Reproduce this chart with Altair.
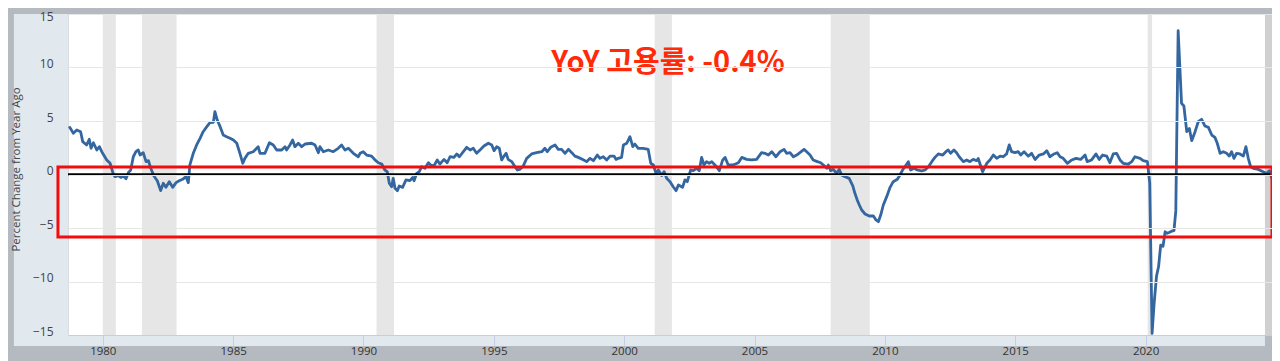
import altair as alt
import pandas as pd

# ---- data (decimal year, percent change from year ago)
years = [
    1978.71, 1978.87, 1979.00, 1979.15, 1979.23, 1979.38, 1979.48, 1979.55, 1979.64, 1979.77,
    1979.87, 1979.96, 1980.15, 1980.28, 1980.40, 1980.47, 1980.59, 1980.69, 1980.79, 1980.89,
    1980.98, 1981.07, 1981.17, 1981.27, 1981.36, 1981.43, 1981.55, 1981.66, 1981.75, 1981.84,
    1981.96, 1982.09, 1982.22, 1982.32, 1982.42, 1982.55, 1982.68, 1982.81, 1982.93, 1983.06,
    1983.19, 1983.28, 1983.34, 1983.47, 1983.60, 1983.73, 1983.85, 1983.99, 1984.11, 1984.24,
    1984.30, 1984.39, 1984.50, 1984.62, 1984.75, 1984.88, 1985.01, 1985.14, 1985.26, 1985.37,
    1985.45, 1985.58, 1985.77, 1985.96, 1986.03, 1986.22, 1986.39, 1986.54, 1986.67, 1986.86,
    1986.99, 1987.05, 1987.18, 1987.28, 1987.37, 1987.50, 1987.63, 1987.76, 1988.01, 1988.14,
    1988.27, 1988.33, 1988.46, 1988.65, 1988.84, 1989.03, 1989.16, 1989.29, 1989.42, 1989.61,
    1989.80, 1989.87, 1989.99, 1990.12, 1990.31, 1990.44, 1990.57, 1990.70, 1990.82, 1990.91,
    1990.99, 1991.08, 1991.14, 1991.21, 1991.30, 1991.37, 1991.50, 1991.63, 1991.78, 1991.89,
    1991.94, 1992.04, 1992.14, 1992.23, 1992.36, 1992.49, 1992.58, 1992.70, 1992.83, 1992.93,
    1993.09, 1993.21, 1993.32, 1993.47, 1993.58, 1993.68, 1993.83, 1993.96, 1994.09, 1994.21,
    1994.34, 1994.47, 1994.62, 1994.79, 1994.92, 1995.01, 1995.11, 1995.21, 1995.30, 1995.39,
    1995.47, 1995.55, 1995.69, 1995.77, 1995.90, 1996.00, 1996.13, 1996.26, 1996.45, 1996.64,
    1996.84, 1996.96, 1997.05, 1997.18, 1997.35, 1997.47, 1997.60, 1997.73, 1997.86, 1997.99,
    1998.11, 1998.24, 1998.41, 1998.56, 1998.69, 1998.82, 1998.97, 1999.07, 1999.20, 1999.33,
    1999.46, 1999.61, 1999.69, 1999.77, 1999.90, 1999.97, 2000.10, 2000.22, 2000.33, 2000.41,
    2000.54, 2000.73, 2000.92, 2001.02, 2001.12, 2001.22, 2001.31, 2001.44, 2001.53, 2001.63,
    2001.76, 2001.88, 2001.99, 2002.08, 2002.24, 2002.33, 2002.42, 2002.55, 2002.65, 2002.78,
    2002.88, 2002.97, 2003.06, 2003.16, 2003.26, 2003.36, 2003.48, 2003.65, 2003.78, 2003.87,
    2003.99, 2004.18, 2004.38, 2004.51, 2004.70, 2004.89, 2005.08, 2005.27, 2005.40, 2005.53,
    2005.66, 2005.82, 2005.98, 2006.13, 2006.23, 2006.36, 2006.49, 2006.62, 2006.74, 2006.90,
    2007.00, 2007.13, 2007.25, 2007.41, 2007.54, 2007.64, 2007.77, 2007.83, 2007.92, 2008.02,
    2008.15, 2008.25, 2008.34, 2008.47, 2008.63, 2008.77, 2008.85, 2008.94, 2009.02, 2009.11,
    2009.24, 2009.40, 2009.56, 2009.66, 2009.75, 2009.84, 2009.94, 2010.07, 2010.20, 2010.32,
    2010.48, 2010.58, 2010.68, 2010.77, 2010.90, 2010.99, 2011.12, 2011.24, 2011.41, 2011.54,
    2011.67, 2011.80, 2011.92, 2012.05, 2012.22, 2012.34, 2012.43, 2012.52, 2012.65, 2012.75,
    2012.85, 2013.01, 2013.14, 2013.26, 2013.39, 2013.52, 2013.58, 2013.75, 2013.91, 2014.03,
    2014.16, 2014.29, 2014.42, 2014.54, 2014.67, 2014.77, 2014.86, 2014.99, 2015.12, 2015.21,
    2015.34, 2015.50, 2015.63, 2015.76, 2015.92, 2016.08, 2016.21, 2016.33, 2016.49, 2016.61,
    2016.72, 2016.84, 2017.00, 2017.17, 2017.33, 2017.51, 2017.68, 2017.76, 2017.93, 2018.10,
    2018.22, 2018.35, 2018.51, 2018.63, 2018.76, 2018.89, 2019.02, 2019.14, 2019.34, 2019.47,
    2019.59, 2019.79, 2019.91, 2020.07, 2020.16, 2020.25, 2020.33, 2020.42, 2020.50, 2020.58,
    2020.67, 2020.75, 2020.83, 2020.92, 2021.00, 2021.09, 2021.16, 2021.25, 2021.38, 2021.47,
    2021.58, 2021.68, 2021.77, 2021.90, 2022.02, 2022.15, 2022.28, 2022.41, 2022.54, 2022.66,
    2022.75, 2022.86, 2022.98, 2023.11, 2023.21, 2023.30, 2023.39, 2023.49, 2023.62, 2023.75,
    2023.85, 2023.94, 2024.03, 2024.13, 2024.32, 2024.51, 2024.65, 2024.75, 2024.84,
]
values = [
    4.50, 3.85, 4.16, 4.00, 3.07, 2.76, 3.29, 2.45, 2.97, 2.29,
    2.60, 2.13, 1.36, 1.05, 0.05, -0.20, -0.10, -0.27, -0.15, -0.39,
    0.17, 0.42, 1.66, 2.13, 2.29, 1.82, 2.04, 1.20, 1.30, 0.58,
    -0.14, -0.58, -1.51, -0.82, -1.20, -0.67, -1.20, -0.76, -0.58, -0.45,
    -0.20, -0.76, 0.89, 1.98, 2.76, 3.38, 4.00, 4.47, 4.84, 4.87,
    5.87, 5.09, 4.47, 3.69, 3.53, 3.38, 3.22, 2.92, 1.98, 1.05,
    1.51, 1.98, 2.13, 2.60, 1.98, 1.98, 2.97, 2.76, 2.29, 2.29,
    2.60, 2.29, 2.76, 3.22, 2.60, 2.92, 2.60, 2.85, 2.92, 2.76,
    2.04, 2.60, 2.13, 2.29, 2.13, 2.45, 2.76, 2.29, 2.45, 1.98,
    1.66, 1.98, 2.13, 1.82, 1.72, 1.36, 1.10, 0.98, 0.42, 0.27,
    -0.82, -1.14, -0.36, -1.29, -1.51, -1.07, -1.20, -0.51, -0.58, -0.27,
    -0.58, 0.11, 0.27, 0.73, 0.58, 1.10, 0.89, 0.80, 1.36, 0.98,
    1.41, 1.10, 1.66, 1.60, 1.92, 1.66, 2.13, 2.54, 2.29, 2.45,
    1.98, 2.29, 2.66, 2.92, 2.76, 2.23, 2.60, 2.45, 1.36, 1.72,
    1.98, 1.41, 1.20, 0.89, 0.42, 0.48, 0.80, 1.51, 1.92, 2.04,
    2.13, 2.45, 2.13, 2.54, 2.76, 2.35, 2.35, 1.98, 2.35, 2.04,
    1.72, 1.60, 1.41, 1.20, 1.51, 1.29, 1.82, 1.51, 1.66, 1.36,
    1.72, 1.72, 1.41, 1.51, 1.60, 2.76, 2.92, 3.53, 2.60, 2.85,
    2.45, 2.45, 2.35, 1.05, 0.89, 0.11, 0.42, -0.09, 0.27, -0.36,
    -0.67, -1.14, -1.51, -0.98, -1.20, -0.51, -0.67, 0.42, 0.36, 0.58,
    0.36, 1.60, 0.89, 1.20, 1.05, 1.20, 0.89, 0.36, 1.36, 1.60,
    0.89, 0.89, 1.10, 1.60, 1.41, 1.36, 1.41, 2.04, 1.98, 1.82,
    2.13, 1.66, 2.13, 2.35, 1.98, 2.04, 1.66, 1.82, 2.04, 2.35,
    2.13, 1.82, 1.36, 1.20, 1.10, 0.89, 0.58, 0.89, 0.36, 0.48,
    0.11, 0.48, -0.04, -0.20, -0.36, -1.07, -1.76, -2.38, -2.85, -3.32,
    -3.69, -3.88, -3.88, -4.25, -4.41, -3.79, -2.85, -2.07, -1.20, -0.67,
    -0.45, -0.04, 0.42, 0.73, 1.20, 0.42, 0.58, 0.42, 0.33, 0.42,
    0.73, 1.20, 1.60, 1.92, 1.82, 2.13, 2.29, 1.98, 2.29, 2.04,
    1.66, 1.20, 1.36, 1.20, 1.41, 1.29, 1.50, 0.26, 1.05, 1.36,
    1.82, 1.51, 1.72, 1.66, 1.92, 2.76, 2.13, 2.04, 2.13, 1.82,
    2.13, 1.72, 1.98, 1.41, 1.82, 1.92, 2.23, 1.66, 1.92, 2.04,
    1.66, 1.51, 1.05, 1.36, 1.51, 1.41, 1.82, 1.20, 1.36, 1.92,
    1.41, 1.82, 1.72, 1.10, 1.92, 1.98, 1.36, 1.05, 0.98, 1.20,
    1.66, 1.51, 1.29, 1.20, -0.80, -14.85, -12.00, -9.50, -8.60, -6.60,
    -6.70, -5.35, -5.50, -5.40, -5.30, -5.25, -3.40, 13.44, 6.65, 6.40,
    4.00, 4.30, 3.16, 4.00, 4.93, 5.16, 4.53, 4.40, 3.69, 3.47,
    2.92, 1.98, 2.13, 1.98, 1.72, 2.13, 1.51, 1.98, 1.92, 1.72,
    2.60, 1.51, 0.73, 0.58, 0.48, 0.26, 0.10, 0.36, -0.36,
]

# NBER recessions (decimal years)
rec_start = [1980.00, 1981.50, 1990.50, 2001.17, 2007.92, 2020.08]
rec_end = [1980.50, 1982.83, 1991.17, 2001.83, 2009.42, 2020.25]

x_ticks = [1980, 1985, 1990, 1995, 2000, 2005, 2010, 2015, 2020]
y_ticks = [-15, -10, -5, 0, 5, 10, 15]
y_title = "Percent Change from Year Ago"
headline = "YoY 고용률: -0.4%"

X_DOMAIN = [1978.665, 2024.85]
Y_DOMAIN = [-15, 15]

# annotation / decoration extents (data units)
panel_left = [1976.59]
panel_right_edge = [2024.58]
axis_band_bottom = [-16.03]
box_x = [1978.28, 2024.85]
box_y = [0.7, -5.84]
head_x = [2001.68]
head_y = [10.42]

xs = alt.Scale(domain=X_DOMAIN, nice=False, zero=False)
ys = alt.Scale(domain=Y_DOMAIN, nice=False, zero=False)

series = pd.DataFrame({"year": years, "value": values})
recessions = pd.DataFrame({"start": rec_start, "end": rec_end})

strips = pd.DataFrame({
    "x": [panel_left[0], X_DOMAIN[0]],
    "x2": [X_DOMAIN[0], panel_right_edge[0]],
    "y": [Y_DOMAIN[1], Y_DOMAIN[0]],
    "y2": [axis_band_bottom[0], axis_band_bottom[0]],
})
band = pd.DataFrame({"x": [panel_right_edge[0]], "x2": [X_DOMAIN[1]],
                     "y": [Y_DOMAIN[1]], "y2": [Y_DOMAIN[0]]})
box = pd.DataFrame({"x": [box_x[0]], "x2": [box_x[1]], "y": [box_y[0]], "y2": [box_y[1]]})
zero_line = pd.DataFrame({"x": [X_DOMAIN[0]], "x2": [2024.80], "y": [0.0]})
head = pd.DataFrame({"x": head_x, "y": head_y, "t": [headline]})

x_axis = alt.Axis(values=x_ticks, format="d", title=None, grid=False,
                  labelFont="Open Sans", labelFontSize=11.5, labelColor="#333333",
                  labelPadding=0, tickSize=10, tickColor="#c6cce6",
                  domainColor="#c6cce6", labelFlush=False, zindex=1)
y_axis = alt.Axis(values=y_ticks, format="d", title=y_title, grid=True,
                  gridColor="#e6e6e6", gridWidth=1, ticks=False, domain=False,
                  labelFont="Open Sans", labelFontSize=12, labelColor="#444444",
                  labelPadding=15,
                  labelBaseline={"condition": {"test": "datum.value == 15", "value": "middle"},
                                 "value": "alphabetic"},
                  labelOffset={"condition": {"test": "datum.value == 15", "value": 2},
                               "value": 0},
                  labelFlush=False,
                  titleFont="Open Sans", titleFontSize=11.5, titleFontWeight="normal",
                  titleColor="#444444", titleAngle=270, titleX=-52, titleY=155,
                  titleAlign="center", titleBaseline="middle", zindex=1)

base_x = alt.X("x:Q", scale=xs, axis=x_axis)
base_y = alt.Y("y:Q", scale=ys, axis=y_axis)

strip_layer = alt.Chart(strips).mark_rect(color="#e1e8ee").encode(
    x=base_x, x2="x2:Q", y=base_y, y2="y2:Q")

rec_layer = alt.Chart(recessions).mark_rect(color="#e6e6e6").encode(
    x=alt.X("start:Q", scale=xs), x2="end:Q",
    y=alt.datum(Y_DOMAIN[1], scale=ys), y2=alt.datum(Y_DOMAIN[0]))

band_layer = alt.Chart(band).mark_rect(color="#8f8f8f", opacity=0.42).encode(
    x=alt.X("x:Q", scale=xs), x2="x2:Q", y=alt.Y("y:Q", scale=ys), y2="y2:Q")

line_layer = alt.Chart(series).mark_line(color="#3466a0", strokeWidth=2.8,
                                         strokeJoin="round").encode(
    x=alt.X("year:Q", scale=xs), y=alt.Y("value:Q", scale=ys))

zero_layer = alt.Chart(zero_line).mark_rule(color="black", strokeWidth=2.6).encode(
    x=alt.X("x:Q", scale=xs), x2="x2:Q", y=alt.Y("y:Q", scale=ys))

box_layer = alt.Chart(box).mark_rect(filled=False, stroke="#f20d0d", strokeWidth=3).encode(
    x=alt.X("x:Q", scale=xs), x2="x2:Q", y=alt.Y("y:Q", scale=ys), y2="y2:Q")

head_layer = alt.Chart(head).mark_text(font="Noto Sans CJK KR", fontWeight="bold",
                                       fontSize=29, color="#ff2a0a",
                                       align="center", baseline="middle").encode(
    x=alt.X("x:Q", scale=xs), y=alt.Y("y:Q", scale=ys), text="t:N")

chart = alt.layer(
    strip_layer, rec_layer, band_layer, line_layer, zero_layer, box_layer, head_layer
).properties(
    width=1204, height=321,
    autosize=alt.AutoSizeParams(type="none"),
    padding={"left": 60, "top": 6, "right": 0, "bottom": 26},
    background="#b5bac0",
).configure_view(stroke="transparent", fill="white")

chart.save("out.html", embed_options={"renderer": "svg", "actions": False})
